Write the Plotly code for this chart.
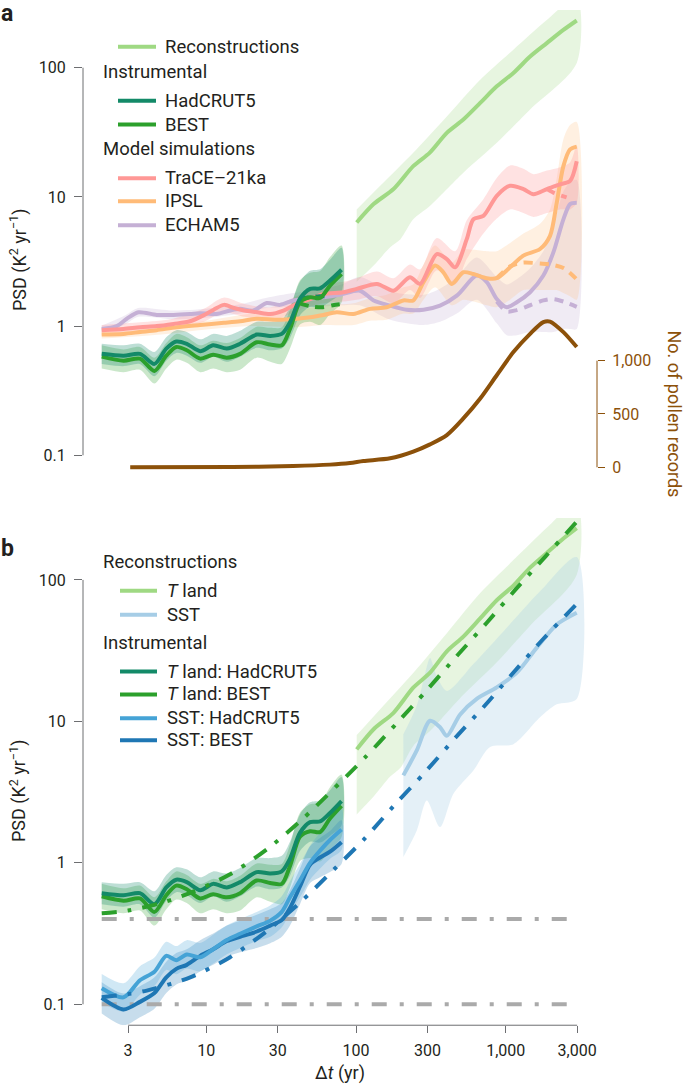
import plotly.graph_objects as go

W, H = 685, 1089

# ---------------- data ----------------
# instrumental grid (yr)
dt_inst = [2.0, 2.8, 3.6, 4.5, 5.4, 6.3, 7.4, 9.1, 11.1, 13.7, 16.8, 21.7, 26.7, 31.9, 36.2, 42.2, 49.3, 57.5, 67.0, 80.0]

land_hadcrut = [0.61, 0.59, 0.61, 0.51, 0.67, 0.76, 0.73, 0.64, 0.71, 0.67, 0.73, 0.86, 0.84, 0.87, 1.07, 1.63, 1.94, 1.96, 2.25, 2.73]
land_hadcrut_hi = [0.73, 0.71, 0.73, 0.63, 0.82, 0.93, 0.90, 0.79, 0.87, 0.84, 0.92, 1.08, 1.08, 1.12, 1.41, 2.20, 2.68, 2.76, 3.26, 4.04]
land_hadcrut_lo = [0.51, 0.49, 0.51, 0.41, 0.54, 0.62, 0.59, 0.52, 0.58, 0.53, 0.58, 0.68, 0.65, 0.67, 0.81, 1.21, 1.41, 1.39, 1.55, 1.84]

land_best = [0.58, 0.54, 0.56, 0.45, 0.59, 0.69, 0.65, 0.56, 0.60, 0.57, 0.61, 0.75, 0.72, 0.71, 0.95, 1.53, 1.67, 1.65, 2.06, 2.53]
land_best_hi = [0.71, 0.66, 0.69, 0.57, 0.74, 0.87, 0.82, 0.71, 0.77, 0.74, 0.81, 0.99, 0.97, 0.98, 1.34, 2.26, 2.59, 2.67, 3.42, 4.20]
land_best_lo = [0.47, 0.44, 0.46, 0.36, 0.47, 0.55, 0.52, 0.44, 0.47, 0.44, 0.46, 0.57, 0.53, 0.51, 0.67, 1.03, 1.08, 1.02, 1.24, 1.52]

sst_hadcrut = [0.130, 0.112, 0.148, 0.170, 0.220, 0.205, 0.225, 0.215, 0.245, 0.285, 0.315, 0.355, 0.390, 0.450, 0.570, 0.750, 1.00, 1.22, 1.45, 1.72]
sst_hadcrut_hi = [0.164, 0.141, 0.186, 0.214, 0.277, 0.258, 0.284, 0.271, 0.310, 0.360, 0.400, 0.450, 0.500, 0.580, 0.740, 0.980, 1.32, 1.63, 1.97, 2.40]
sst_hadcrut_lo = [0.103, 0.089, 0.117, 0.135, 0.175, 0.163, 0.179, 0.171, 0.194, 0.226, 0.250, 0.280, 0.300, 0.350, 0.440, 0.570, 0.76, 0.91, 1.07, 1.23]

sst_best = [0.111, 0.092, 0.104, 0.120, 0.155, 0.178, 0.190, 0.220, 0.245, 0.280, 0.300, 0.327, 0.360, 0.394, 0.480, 0.680, 0.97, 1.09, 1.20, 1.40]
sst_best_hi = [0.143, 0.119, 0.134, 0.155, 0.200, 0.230, 0.245, 0.284, 0.316, 0.360, 0.390, 0.430, 0.470, 0.520, 0.640, 0.910, 1.31, 1.50, 1.68, 2.00]
sst_best_lo = [0.086, 0.071, 0.081, 0.093, 0.120, 0.138, 0.147, 0.171, 0.190, 0.217, 0.233, 0.250, 0.270, 0.300, 0.360, 0.510, 0.72, 0.79, 0.86, 0.98]

# short dashed instrumental variants
hc_dash_dt = [42.0, 50.0, 58.0, 67.0]
hc_dash = [1.62, 1.68, 1.70, 1.71]
best_dash_dt = [42.0, 50.0, 60.0, 70.0, 80.0]
best_dash = [1.50, 1.42, 1.40, 1.45, 1.48]

# land reconstruction (pollen)
recon_dt = [101, 131, 178, 241, 311, 404, 521, 675, 871, 1125, 1454, 1880, 2427, 2980]
recon_land = [6.34, 8.8, 11.5, 17.3, 22.0, 31.3, 39.7, 53.4, 71.8, 91, 122, 155, 196, 232]
recon_hi_dt = [101, 145, 241, 404, 675, 1125, 1880, 2980]
recon_hi = [8.0, 12.2, 22.0, 42.0, 80.8, 138, 234, 350]
recon_lo_dt = [101, 131, 169, 198, 241, 311, 521, 871, 1454, 2980]
recon_lo = [2.2, 2.94, 4.07, 4.7, 6.7, 8.5, 15.4, 26.2, 47.4, 108.6]

# SST reconstruction
sst_recon_dt = [207, 254, 312, 364, 404, 496, 640, 871, 1185, 1612, 2191, 2980]
sst_recon = [4.15, 6.2, 10.1, 9.1, 7.9, 11.2, 14.4, 17.4, 22.1, 33.2, 48.4, 58.6]
sst_hi_dt = [207, 255, 290, 312, 345, 404, 608, 1016, 1694, 2980]
sst_hi = [8.1, 13.0, 22.0, 28.0, 21.0, 16.4, 25.4, 45.9, 83.0, 145.0]
sst_lo_dt = [207, 255, 297, 364, 447, 608, 786, 1125, 1694, 2191, 2980]
sst_lo = [1.1, 1.7, 2.76, 1.79, 3.08, 4.5, 6.6, 6.9, 10.7, 13.2, 14.4]

# model simulations
trace_dt = [2.0, 2.79, 3.61, 4.66, 6.03, 7.78, 9.56, 11.2, 13.1, 15.3, 17.9, 21.9, 26.7, 32.7, 40.1, 49.3, 60.5, 82,
            101, 138, 178, 229, 268, 346, 404, 459, 549, 608, 709, 871, 1069, 1312, 1531, 1880, 2306, 2690, 2980]
trace = [0.93, 0.95, 0.98, 1.00, 1.04, 1.09, 1.21, 1.34, 1.46, 1.38, 1.32, 1.28, 1.24, 1.32, 1.49, 1.62, 1.77, 1.83,
         1.94, 2.12, 1.88, 2.39, 2.12, 3.61, 3.30, 2.85, 4.71, 6.72, 7.13, 10.2, 12.2, 11.5, 10.5, 11.5, 12.5, 13.3, 18.9]
trace_band_dt = [2, 3.6, 6, 9.6, 13, 18, 27, 40, 60, 82, 101, 138, 178, 229, 268, 346, 459, 549, 709, 871, 1069, 1312, 1531, 1880, 2306, 2690, 2980]
trace_lo = [0.85, 0.90, 0.95, 1.08, 1.28, 1.18, 1.10, 1.30, 1.50, 1.55, 1.60, 1.70, 1.50, 1.90, 1.65, 2.7, 2.1, 3.3, 5.2, 6.8, 8.0, 7.5, 7.0, 7.5, 8.0, 8.0, 9.0]
trace_hi = [1.02, 1.07, 1.14, 1.36, 1.66, 1.48, 1.40, 1.70, 2.10, 2.20, 2.35, 2.65, 2.35, 3.0, 2.75, 4.8, 3.8, 6.6, 9.6, 14.0, 17.5, 16.5, 15.0, 16.0, 17.0, 18.5, 25.0]
trace_dash_dt = [1880, 2080, 2306, 2550]
trace_dash = [11.5, 10.8, 10.3, 9.9]

ipsl_dt = [2.0, 2.79, 3.61, 4.66, 6.34, 9.08, 13.1, 16.8, 21.7, 29.3, 40.1, 49.3, 60.5, 74.2, 96, 124, 160, 207, 241,
           282, 337, 383, 436, 521, 608, 747, 871, 1069, 1312, 1694, 1976, 2191, 2427, 2690, 2980]
ipsl = [0.86, 0.87, 0.90, 0.93, 0.98, 1.02, 1.06, 1.09, 1.14, 1.12, 1.14, 1.17, 1.22, 1.28, 1.24, 1.36, 1.40, 1.58, 1.58,
        2.19, 2.94, 2.61, 2.12, 2.61, 2.53, 2.35, 2.35, 2.85, 3.51, 3.95, 5.0, 9.0, 17.3, 23.3, 24.5]
ipsl_band_dt = [2, 5, 10, 20, 40, 60, 96, 124, 160, 207, 241, 282, 337, 436, 521, 608, 747, 871, 1069, 1312, 1694, 1976, 2191, 2427, 2690, 2980]
ipsl_lo = [0.80, 0.86, 0.94, 1.0, 0.98, 1.02, 1.02, 1.10, 1.12, 1.25, 1.25, 1.6, 2.0, 1.45, 1.6, 1.55, 1.45, 1.4, 1.6, 1.9, 1.9, 1.9, 1.9, 1.8, 1.7, 1.6]
ipsl_hi = [0.92, 0.99, 1.10, 1.25, 1.32, 1.45, 1.50, 1.65, 1.75, 2.0, 2.1, 3.0, 4.2, 3.1, 3.9, 3.9, 3.8, 3.8, 4.4, 5.2, 6.2, 8.0, 14.0, 28.0, 36.0, 38.0]
ipsl_dash_dt = [871, 1070, 1300, 1700, 2000, 2450, 2980]
ipsl_dash = [2.35, 2.9, 3.1, 3.05, 3.0, 2.8, 2.3]

echam_dt = [2.0, 2.52, 2.94, 3.52, 4.66, 6.03, 7.78, 9.08, 11.7, 14.4, 16.8, 20.6, 25.3, 31, 38.1, 46.7, 60.5, 78,
            106, 131, 169, 218, 282, 364, 471, 640, 747, 871, 1016, 1185, 1454, 1783, 2080, 2427, 2690, 2980]
echam = [0.95, 1.0, 1.14, 1.28, 1.22, 1.22, 1.24, 1.26, 1.24, 1.32, 1.36, 1.32, 1.51, 1.46, 1.58, 1.62, 1.67, 1.75,
         1.88, 1.58, 1.44, 1.34, 1.34, 1.44, 1.72, 2.46, 2.19, 1.62, 1.40, 1.53, 1.83, 2.46, 3.72, 6.7, 8.8, 9.0]
echam_band_dt = [2, 2.9, 3.5, 6, 10, 17, 25, 38, 60, 80, 106, 169, 282, 364, 471, 640, 871, 1016, 1185, 1454, 1783, 2080, 2427, 2690, 2980]
echam_lo = [0.90, 1.04, 1.18, 1.13, 1.16, 1.25, 1.38, 1.40, 1.42, 1.45, 1.45, 1.12, 1.02, 1.08, 1.25, 1.6, 1.05, 0.85, 0.85, 0.90, 0.90, 0.90, 0.95, 0.95, 0.95]
echam_hi = [1.01, 1.22, 1.38, 1.32, 1.36, 1.48, 1.65, 1.80, 1.95, 2.1, 2.4, 1.85, 1.75, 1.95, 2.4, 3.4, 2.4, 2.1, 2.3, 2.8, 3.8, 6.0, 11.0, 13.0, 13.5]
echam_dash_dt = [871, 1016, 1185, 1454, 1783, 2080, 2427, 2980]
echam_dash = [1.55, 1.30, 1.33, 1.45, 1.58, 1.62, 1.55, 1.41]

# number of pollen records
pollen_dt = [3.1, 15, 38, 67, 91, 112, 169, 241, 312, 404, 521, 675, 871, 1125, 1454, 1783, 1976, 2427, 2980]
pollen_n = [0, 3, 12, 25, 40, 59, 84, 147, 215, 302, 458, 645, 863, 1081, 1252, 1362, 1367, 1268, 1128]

# fitted noise models (panel b)
fit_land_dt = [2.0, 3.0, 5.0, 8.0, 14.4, 25.7, 43.5, 117, 187, 297, 471, 747, 1172, 1858, 3000]
fit_land = [0.44, 0.46, 0.52, 0.62, 0.83, 1.26, 2.02, 5.67, 9.7, 16.6, 29.0, 49.8, 86.4, 148, 260]
fit_sst_dt = [2.0, 3.0, 4.0, 7.8, 14.4, 25.4, 42.7, 70.6, 114, 180, 289, 458, 728, 1153, 1811, 3000]
fit_sst = [0.112, 0.118, 0.125, 0.155, 0.215, 0.33, 0.53, 0.89, 1.48, 2.55, 4.37, 7.6, 13.0, 22.8, 39.0, 68.0]
noise_dt = [2.0, 3000.0]
noise_land = [0.4, 0.4]
noise_sst = [0.1, 0.1]

# axes ticks
x_tickvals = [3, 10, 30, 100, 300, 1000, 3000]
x_ticktext = ["3", "10", "30", "100", "300", "1,000", "3,000"]
y_tickvals = [0.1, 1, 10, 100]
y_ticktext = ["0.1", "1", "10", "100"]
pollen_tickvals = [0, 500, 1000]
pollen_ticktext = ["0", "500", "1,000"]

# ---------------- colours ----------------
C_RECON = "#9fd983"
C_HAD = "#138a68"
C_BEST = "#2ca02c"
C_TRACE = "#ff9896"
C_IPSL = "#ffbb78"
C_ECHAM = "#c5b0d5"
C_SSTREC = "#a6cde6"
C_SSTHAD = "#45a3d6"
C_SSTBEST = "#1f77b4"
C_POLLEN = "#8c510a"
C_GREY = "#aaaaaa"
TXT = "#231f20"
FONT = "Roboto"


def rgba(hexc, a):
    h = hexc.lstrip('#')
    return "rgba(%d,%d,%d,%.3f)" % (int(h[0:2], 16), int(h[2:4], 16), int(h[4:6], 16), a)


fig = go.Figure()


def band(xh, hi, xl, lo, color, a, xa, ya):
    fig.add_trace(go.Scatter(
        x=list(xh) + list(xl)[::-1], y=list(hi) + list(lo)[::-1],
        mode="lines", fill="toself", fillcolor=rgba(color, a),
        line=dict(width=0, shape="spline", smoothing=0.8),
        hoverinfo="skip", showlegend=False, xaxis=xa, yaxis=ya))


def line(x, y, color, xa, ya, dash="solid", width=4, shape="spline"):
    fig.add_trace(go.Scatter(
        x=x, y=y, mode="lines",
        line=dict(color=color, width=width, dash=dash, shape=shape, smoothing=0.8),
        hoverinfo="skip", showlegend=False, xaxis=xa, yaxis=ya))


DASH = "9px,7px"
DASHDOT = "15px,11px,4px,11px"
GREYDOT = "15px,13px,4px,13px"

# ---------------- panel a ----------------
band(recon_hi_dt, recon_hi, recon_lo_dt, recon_lo, C_RECON, 0.25, "x2", "y2")
band(echam_band_dt, echam_hi, echam_band_dt, echam_lo, C_ECHAM, 0.25, "x2", "y2")
band(ipsl_band_dt, ipsl_hi, ipsl_band_dt, ipsl_lo, C_IPSL, 0.22, "x2", "y2")
band(trace_band_dt, trace_hi, trace_band_dt, trace_lo, C_TRACE, 0.28, "x2", "y2")
band(dt_inst, land_best_hi, dt_inst, land_best_lo, C_BEST, 0.25, "x2", "y2")
band(dt_inst, land_hadcrut_hi, dt_inst, land_hadcrut_lo, C_HAD, 0.28, "x2", "y2")

line(recon_dt, recon_land, C_RECON, "x2", "y2")
line(echam_dt, echam, C_ECHAM, "x2", "y2")
line(echam_dash_dt, echam_dash, C_ECHAM, "x2", "y2", dash=DASH)
line(ipsl_dt, ipsl, C_IPSL, "x2", "y2")
line(ipsl_dash_dt, ipsl_dash, C_IPSL, "x2", "y2", dash=DASH)
line(trace_dt, trace, C_TRACE, "x2", "y2")
line(trace_dash_dt, trace_dash, C_TRACE, "x2", "y2", dash=DASH)
line(best_dash_dt, best_dash, C_BEST, "x2", "y2", dash=DASH)
line(hc_dash_dt, hc_dash, C_HAD, "x2", "y2", dash=DASH)
line(dt_inst, land_best, C_BEST, "x2", "y2")
line(dt_inst, land_hadcrut, C_HAD, "x2", "y2")
line(pollen_dt, pollen_n, C_POLLEN, "x2", "y3")

# ---------------- panel b ----------------
band(recon_hi_dt, recon_hi, recon_lo_dt, recon_lo, C_RECON, 0.25, "x", "y")
band(sst_hi_dt, sst_hi, sst_lo_dt, sst_lo, C_SSTREC, 0.3, "x", "y")
band(dt_inst, land_best_hi, dt_inst, land_best_lo, C_BEST, 0.25, "x", "y")
band(dt_inst, land_hadcrut_hi, dt_inst, land_hadcrut_lo, C_HAD, 0.28, "x", "y")
band(dt_inst, sst_best_hi, dt_inst, sst_best_lo, C_SSTBEST, 0.25, "x", "y")
band(dt_inst, sst_hadcrut_hi, dt_inst, sst_hadcrut_lo, C_SSTHAD, 0.25, "x", "y")

line(noise_dt, noise_land, C_GREY, "x", "y", dash=GREYDOT, shape="linear")
line(noise_dt, noise_sst, C_GREY, "x", "y", dash=GREYDOT, shape="linear")
line(recon_dt, recon_land, C_RECON, "x", "y")
line(sst_recon_dt, sst_recon, C_SSTREC, "x", "y")
line(dt_inst, land_best, C_BEST, "x", "y")
line(dt_inst, land_hadcrut, C_HAD, "x", "y")
line(dt_inst, sst_best, C_SSTBEST, "x", "y")
line(dt_inst, sst_hadcrut, C_SSTHAD, "x", "y")
line(fit_land_dt, fit_land, C_BEST, "x", "y", dash=DASHDOT)
line(fit_sst_dt, fit_sst, C_SSTBEST, "x", "y", dash=DASHDOT)

# ---------------- layout ----------------
XDOM = [83 / W, 600 / W]
XRANGE = [0.176, 3.6296]

axis_common = dict(showgrid=False, zeroline=False, showline=False, ticks="outside",
                   tickwidth=1, tickcolor="#6d6e71",
                   tickfont=dict(family=FONT, size=16, color=TXT))

fig.update_layout(
    width=W, height=H,
    margin=dict(l=0, r=0, t=0, b=0, pad=0),
    paper_bgcolor="white", plot_bgcolor="rgba(0,0,0,0)",
    showlegend=False,
    font=dict(family=FONT, size=16, color=TXT),
    xaxis=dict(type="log", domain=XDOM, range=XRANGE, anchor="y",
               tickvals=x_tickvals, ticktext=x_ticktext, ticklen=7, ticklabelstandoff=4, **axis_common),
    yaxis=dict(type="log", domain=[1 - 1029 / H, 1 - 520 / H], range=[-1.148, 2.437], anchor="x",
               tickvals=y_tickvals, ticktext=y_ticktext, ticklen=8, ticklabelstandoff=5, **axis_common),
    xaxis2=dict(type="log", domain=XDOM, range=XRANGE, anchor="y2", visible=False),
    yaxis2=dict(type="log", domain=[1 - 475 / H, 1 - 10 / H], range=[-1.139, 2.447], anchor="x2",
                tickvals=y_tickvals, ticktext=y_ticktext, ticklen=8, ticklabelstandoff=5, **axis_common),
    yaxis3=dict(overlaying="y2", anchor="free", position=597 / W, side="right", range=[-56, 4290],
                showgrid=False, zeroline=False, showline=False, ticks="outside", ticklen=7, tickwidth=1,
                tickcolor=C_POLLEN, tickvals=pollen_tickvals, ticktext=pollen_ticktext, ticklabelstandoff=4,
                tickfont=dict(family=FONT, size=16, color=C_POLLEN)),
)

# axis spines limited to the tick range
shapes = [
    dict(type="line", xref="paper", yref="y2", x0=83 / W, x1=83 / W, y0=0.1, y1=100, line=dict(color="#6d6e71", width=1)),
    dict(type="line", xref="paper", yref="y", x0=83 / W, x1=83 / W, y0=0.1, y1=100, line=dict(color="#6d6e71", width=1)),
    dict(type="line", xref="x", yref="paper", x0=3, x1=3000, y0=1 - 1029 / H, y1=1 - 1029 / H, line=dict(color="#6d6e71", width=1)),
    dict(type="line", xref="paper", yref="y3", x0=597 / W, x1=597 / W, y0=0, y1=1000, line=dict(color=C_POLLEN, width=1)),
]

annotations = []


def text(x, y, s, size=18, color=TXT, xanchor="left", angle=0, bold=False):
    annotations.append(dict(xref="paper", yref="paper", x=x / W, y=1 - y / H, text=("<b>%s</b>" % s if bold else s),
                            showarrow=False, xanchor=xanchor, yanchor="middle", textangle=angle,
                            font=dict(family=FONT, size=size, color=color)))


def key(y, color, x0=118, x1=156):
    shapes.append(dict(type="line", xref="paper", yref="paper", x0=x0 / W, x1=x1 / W, y0=1 - y / H, y1=1 - y / H,
                       line=dict(color=color, width=4)))


# panel a legend
key(47, C_RECON); text(163, 47, "Reconstructions", size=18.5)
text(101, 72, "Instrumental", size=18.5)
key(101, C_HAD); text(163, 101, "HadCRUT5", size=18.5)
key(125, C_BEST); text(163, 125, "BEST", size=18.5)
text(101, 150, "Model simulations", size=18.5)
key(179, C_TRACE); text(163, 179, "TraCE\u201321ka", size=18.5)
key(202, C_IPSL); text(163, 202, "IPSL", size=18.5)
key(226, C_ECHAM); text(163, 226, "ECHAM5", size=18.5)

# panel b legend
text(101, 564, "Reconstructions", size=18.5)
key(593, C_RECON, 120, 157); text(165, 593, "<i>T</i> land", size=18.5)
key(617, C_SSTREC, 120, 157); text(165, 617, "SST", size=18.5)
text(101, 645, "Instrumental", size=18.5)
key(674, C_HAD, 120, 157); text(165, 674, "<i>T</i> land: HadCRUT5", size=18.5)
key(697, C_BEST, 120, 157); text(165, 697, "<i>T</i> land: BEST", size=18.5)
key(721, C_SSTHAD, 120, 157); text(165, 721, "SST: HadCRUT5", size=18.5)
key(743, C_SSTBEST, 120, 157); text(165, 743, "SST: BEST", size=18.5)

# panel letters and axis titles
text(-1, 14, "a", size=23, bold=True)
text(-1, 551, "b", size=23, bold=True)
text(18, 261, "PSD (K<sup>2</sup> yr<sup>\u22121</sup>)", xanchor="center", angle=-90)
text(18, 794, "PSD (K<sup>2</sup> yr<sup>\u22121</sup>)", xanchor="center", angle=-90)
text(340, 1077, "\u0394<i>t</i> (yr)", xanchor="center")
text(675, 415, "No. of pollen records", color=C_POLLEN, xanchor="center", angle=90)

fig.update_layout(shapes=shapes, annotations=annotations)

fig.write_html("out.html", config={"displayModeBar": False, "staticPlot": True},
               post_script="document.body.style.margin='0px';document.body.style.padding='0px';")
